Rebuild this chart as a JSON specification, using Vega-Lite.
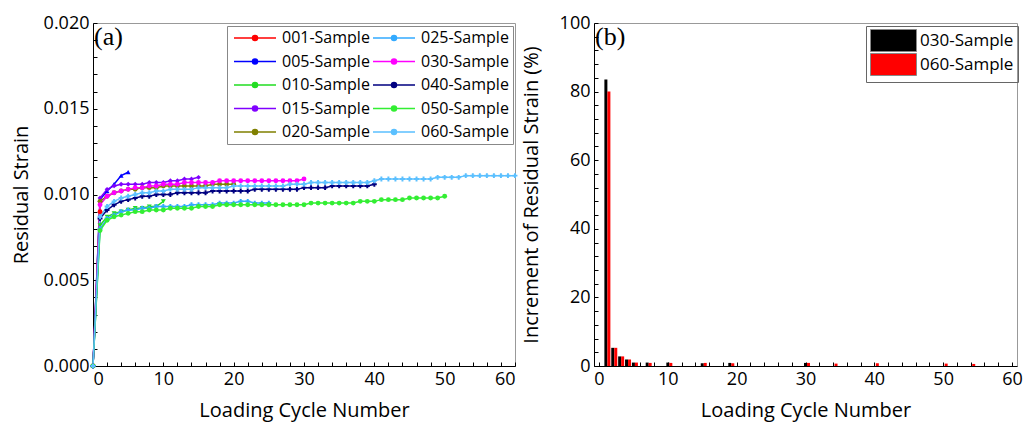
{
  "$schema": "https://vega.github.io/schema/vega-lite/v6.json",
  "background": "white",
  "padding": {"left": 10, "top": 13, "right": 5, "bottom": 5},
  "config": {
    "font": "Open Sans",
    "view": {"stroke": "#999", "strokeWidth": 1},
    "axis": {
      "labelFont": "Open Sans", "labelFontSize": 18, "labelColor": "#000",
      "titleFont": "Open Sans", "titleFontSize": 20, "titleFontWeight": "normal", "titleColor": "#000",
      "domainColor": "#000", "tickColor": "#000", "grid": false, "tickSize": -4, "labelPadding": 8
    },
    "legend": {"labelFont": "Open Sans", "labelColor": "#000"}
  },
  "datasets": {
    "strain": [
      {"sample": "001-Sample", "cycle": 0, "strain": 0}, {"sample": "001-Sample", "cycle": 1, "strain": 0.0090},
      {"sample": "005-Sample", "cycle": 0, "strain": 0}, {"sample": "005-Sample", "cycle": 1, "strain": 0.0097}, {"sample": "005-Sample", "cycle": 2, "strain": 0.0102}, {"sample": "005-Sample", "cycle": 3, "strain": 0.0106}, {"sample": "005-Sample", "cycle": 4, "strain": 0.0111}, {"sample": "005-Sample", "cycle": 5, "strain": 0.0113},
      {"sample": "010-Sample", "cycle": 0, "strain": 0}, {"sample": "010-Sample", "cycle": 1, "strain": 0.0082}, {"sample": "010-Sample", "cycle": 2, "strain": 0.0087}, {"sample": "010-Sample", "cycle": 3, "strain": 0.0089}, {"sample": "010-Sample", "cycle": 4, "strain": 0.0090}, {"sample": "010-Sample", "cycle": 5, "strain": 0.0091}, {"sample": "010-Sample", "cycle": 6, "strain": 0.0092}, {"sample": "010-Sample", "cycle": 7, "strain": 0.0092}, {"sample": "010-Sample", "cycle": 8, "strain": 0.0093}, {"sample": "010-Sample", "cycle": 9, "strain": 0.0093}, {"sample": "010-Sample", "cycle": 10, "strain": 0.0096},
      {"sample": "015-Sample", "cycle": 0, "strain": 0}, {"sample": "015-Sample", "cycle": 1, "strain": 0.0098}, {"sample": "015-Sample", "cycle": 2, "strain": 0.0103}, {"sample": "015-Sample", "cycle": 3, "strain": 0.0105}, {"sample": "015-Sample", "cycle": 4, "strain": 0.0106}, {"sample": "015-Sample", "cycle": 5, "strain": 0.0106}, {"sample": "015-Sample", "cycle": 6, "strain": 0.0106}, {"sample": "015-Sample", "cycle": 7, "strain": 0.0106}, {"sample": "015-Sample", "cycle": 8, "strain": 0.0107}, {"sample": "015-Sample", "cycle": 9, "strain": 0.0107}, {"sample": "015-Sample", "cycle": 10, "strain": 0.0107}, {"sample": "015-Sample", "cycle": 11, "strain": 0.0108}, {"sample": "015-Sample", "cycle": 12, "strain": 0.0108}, {"sample": "015-Sample", "cycle": 13, "strain": 0.0109}, {"sample": "015-Sample", "cycle": 14, "strain": 0.0109}, {"sample": "015-Sample", "cycle": 15, "strain": 0.0110},
      {"sample": "020-Sample", "cycle": 0, "strain": 0}, {"sample": "020-Sample", "cycle": 1, "strain": 0.0096}, {"sample": "020-Sample", "cycle": 2, "strain": 0.0099}, {"sample": "020-Sample", "cycle": 3, "strain": 0.0101}, {"sample": "020-Sample", "cycle": 4, "strain": 0.0102}, {"sample": "020-Sample", "cycle": 5, "strain": 0.0103}, {"sample": "020-Sample", "cycle": 6, "strain": 0.0103}, {"sample": "020-Sample", "cycle": 7, "strain": 0.0104}, {"sample": "020-Sample", "cycle": 8, "strain": 0.0104}, {"sample": "020-Sample", "cycle": 9, "strain": 0.0104}, {"sample": "020-Sample", "cycle": 10, "strain": 0.0105}, {"sample": "020-Sample", "cycle": 11, "strain": 0.0105}, {"sample": "020-Sample", "cycle": 12, "strain": 0.0105}, {"sample": "020-Sample", "cycle": 13, "strain": 0.0105}, {"sample": "020-Sample", "cycle": 14, "strain": 0.0105}, {"sample": "020-Sample", "cycle": 15, "strain": 0.0105}, {"sample": "020-Sample", "cycle": 16, "strain": 0.0105}, {"sample": "020-Sample", "cycle": 17, "strain": 0.0106}, {"sample": "020-Sample", "cycle": 18, "strain": 0.0106}, {"sample": "020-Sample", "cycle": 19, "strain": 0.0106}, {"sample": "020-Sample", "cycle": 20, "strain": 0.0106},
      {"sample": "025-Sample", "cycle": 0, "strain": 0}, {"sample": "025-Sample", "cycle": 1, "strain": 0.0080}, {"sample": "025-Sample", "cycle": 2, "strain": 0.0086}, {"sample": "025-Sample", "cycle": 3, "strain": 0.0088}, {"sample": "025-Sample", "cycle": 4, "strain": 0.0090}, {"sample": "025-Sample", "cycle": 5, "strain": 0.0091}, {"sample": "025-Sample", "cycle": 6, "strain": 0.0091}, {"sample": "025-Sample", "cycle": 7, "strain": 0.0092}, {"sample": "025-Sample", "cycle": 8, "strain": 0.0092}, {"sample": "025-Sample", "cycle": 9, "strain": 0.0093}, {"sample": "025-Sample", "cycle": 10, "strain": 0.0093}, {"sample": "025-Sample", "cycle": 11, "strain": 0.0093}, {"sample": "025-Sample", "cycle": 12, "strain": 0.0093}, {"sample": "025-Sample", "cycle": 13, "strain": 0.0093}, {"sample": "025-Sample", "cycle": 14, "strain": 0.0094}, {"sample": "025-Sample", "cycle": 15, "strain": 0.0094}, {"sample": "025-Sample", "cycle": 16, "strain": 0.0094}, {"sample": "025-Sample", "cycle": 17, "strain": 0.0094}, {"sample": "025-Sample", "cycle": 18, "strain": 0.0095}, {"sample": "025-Sample", "cycle": 19, "strain": 0.0095}, {"sample": "025-Sample", "cycle": 20, "strain": 0.0095}, {"sample": "025-Sample", "cycle": 21, "strain": 0.0096}, {"sample": "025-Sample", "cycle": 22, "strain": 0.0096}, {"sample": "025-Sample", "cycle": 23, "strain": 0.0095}, {"sample": "025-Sample", "cycle": 24, "strain": 0.0095}, {"sample": "025-Sample", "cycle": 25, "strain": 0.0095},
      {"sample": "030-Sample", "cycle": 0, "strain": 0}, {"sample": "030-Sample", "cycle": 1, "strain": 0.0094}, {"sample": "030-Sample", "cycle": 2, "strain": 0.0099}, {"sample": "030-Sample", "cycle": 3, "strain": 0.0101}, {"sample": "030-Sample", "cycle": 4, "strain": 0.0102}, {"sample": "030-Sample", "cycle": 5, "strain": 0.0103}, {"sample": "030-Sample", "cycle": 6, "strain": 0.0104}, {"sample": "030-Sample", "cycle": 7, "strain": 0.0104}, {"sample": "030-Sample", "cycle": 8, "strain": 0.0105}, {"sample": "030-Sample", "cycle": 9, "strain": 0.0105}, {"sample": "030-Sample", "cycle": 10, "strain": 0.0106}, {"sample": "030-Sample", "cycle": 11, "strain": 0.0106}, {"sample": "030-Sample", "cycle": 12, "strain": 0.0106}, {"sample": "030-Sample", "cycle": 13, "strain": 0.0107}, {"sample": "030-Sample", "cycle": 14, "strain": 0.0107}, {"sample": "030-Sample", "cycle": 15, "strain": 0.0107}, {"sample": "030-Sample", "cycle": 16, "strain": 0.0107}, {"sample": "030-Sample", "cycle": 17, "strain": 0.0107}, {"sample": "030-Sample", "cycle": 18, "strain": 0.0108}, {"sample": "030-Sample", "cycle": 19, "strain": 0.0108}, {"sample": "030-Sample", "cycle": 20, "strain": 0.0108}, {"sample": "030-Sample", "cycle": 21, "strain": 0.0108}, {"sample": "030-Sample", "cycle": 22, "strain": 0.0108}, {"sample": "030-Sample", "cycle": 23, "strain": 0.0108}, {"sample": "030-Sample", "cycle": 24, "strain": 0.0108}, {"sample": "030-Sample", "cycle": 25, "strain": 0.0108}, {"sample": "030-Sample", "cycle": 26, "strain": 0.0108}, {"sample": "030-Sample", "cycle": 27, "strain": 0.0108}, {"sample": "030-Sample", "cycle": 28, "strain": 0.0108}, {"sample": "030-Sample", "cycle": 29, "strain": 0.0108}, {"sample": "030-Sample", "cycle": 30, "strain": 0.0109},
      {"sample": "040-Sample", "cycle": 0, "strain": 0}, {"sample": "040-Sample", "cycle": 1, "strain": 0.0086}, {"sample": "040-Sample", "cycle": 2, "strain": 0.0091}, {"sample": "040-Sample", "cycle": 3, "strain": 0.0094}, {"sample": "040-Sample", "cycle": 4, "strain": 0.0096}, {"sample": "040-Sample", "cycle": 5, "strain": 0.0097}, {"sample": "040-Sample", "cycle": 6, "strain": 0.0098}, {"sample": "040-Sample", "cycle": 7, "strain": 0.0099}, {"sample": "040-Sample", "cycle": 8, "strain": 0.0099}, {"sample": "040-Sample", "cycle": 9, "strain": 0.0100}, {"sample": "040-Sample", "cycle": 10, "strain": 0.0100}, {"sample": "040-Sample", "cycle": 11, "strain": 0.0100}, {"sample": "040-Sample", "cycle": 12, "strain": 0.0101}, {"sample": "040-Sample", "cycle": 13, "strain": 0.0101}, {"sample": "040-Sample", "cycle": 14, "strain": 0.0101}, {"sample": "040-Sample", "cycle": 15, "strain": 0.0101}, {"sample": "040-Sample", "cycle": 16, "strain": 0.0101}, {"sample": "040-Sample", "cycle": 17, "strain": 0.0102}, {"sample": "040-Sample", "cycle": 18, "strain": 0.0102}, {"sample": "040-Sample", "cycle": 19, "strain": 0.0102}, {"sample": "040-Sample", "cycle": 20, "strain": 0.0102}, {"sample": "040-Sample", "cycle": 21, "strain": 0.0102}, {"sample": "040-Sample", "cycle": 22, "strain": 0.0102}, {"sample": "040-Sample", "cycle": 23, "strain": 0.0103}, {"sample": "040-Sample", "cycle": 24, "strain": 0.0103}, {"sample": "040-Sample", "cycle": 25, "strain": 0.0103}, {"sample": "040-Sample", "cycle": 26, "strain": 0.0103}, {"sample": "040-Sample", "cycle": 27, "strain": 0.0103}, {"sample": "040-Sample", "cycle": 28, "strain": 0.0103}, {"sample": "040-Sample", "cycle": 29, "strain": 0.0103}, {"sample": "040-Sample", "cycle": 30, "strain": 0.0104}, {"sample": "040-Sample", "cycle": 31, "strain": 0.0104}, {"sample": "040-Sample", "cycle": 32, "strain": 0.0104}, {"sample": "040-Sample", "cycle": 33, "strain": 0.0104}, {"sample": "040-Sample", "cycle": 34, "strain": 0.0105}, {"sample": "040-Sample", "cycle": 35, "strain": 0.0105}, {"sample": "040-Sample", "cycle": 36, "strain": 0.0105}, {"sample": "040-Sample", "cycle": 37, "strain": 0.0105}, {"sample": "040-Sample", "cycle": 38, "strain": 0.0105}, {"sample": "040-Sample", "cycle": 39, "strain": 0.0105}, {"sample": "040-Sample", "cycle": 40, "strain": 0.0106},
      {"sample": "050-Sample", "cycle": 0, "strain": 0}, {"sample": "050-Sample", "cycle": 1, "strain": 0.0079}, {"sample": "050-Sample", "cycle": 2, "strain": 0.0085}, {"sample": "050-Sample", "cycle": 3, "strain": 0.0087}, {"sample": "050-Sample", "cycle": 4, "strain": 0.0088}, {"sample": "050-Sample", "cycle": 5, "strain": 0.0089}, {"sample": "050-Sample", "cycle": 6, "strain": 0.0090}, {"sample": "050-Sample", "cycle": 7, "strain": 0.0090}, {"sample": "050-Sample", "cycle": 8, "strain": 0.0091}, {"sample": "050-Sample", "cycle": 9, "strain": 0.0091}, {"sample": "050-Sample", "cycle": 10, "strain": 0.0091}, {"sample": "050-Sample", "cycle": 11, "strain": 0.0092}, {"sample": "050-Sample", "cycle": 12, "strain": 0.0092}, {"sample": "050-Sample", "cycle": 13, "strain": 0.0092}, {"sample": "050-Sample", "cycle": 14, "strain": 0.0092}, {"sample": "050-Sample", "cycle": 15, "strain": 0.0093}, {"sample": "050-Sample", "cycle": 16, "strain": 0.0093}, {"sample": "050-Sample", "cycle": 17, "strain": 0.0093}, {"sample": "050-Sample", "cycle": 18, "strain": 0.0094}, {"sample": "050-Sample", "cycle": 19, "strain": 0.0094}, {"sample": "050-Sample", "cycle": 20, "strain": 0.0094}, {"sample": "050-Sample", "cycle": 21, "strain": 0.0094}, {"sample": "050-Sample", "cycle": 22, "strain": 0.0094}, {"sample": "050-Sample", "cycle": 23, "strain": 0.0094}, {"sample": "050-Sample", "cycle": 24, "strain": 0.0094}, {"sample": "050-Sample", "cycle": 25, "strain": 0.0094}, {"sample": "050-Sample", "cycle": 26, "strain": 0.0094}, {"sample": "050-Sample", "cycle": 27, "strain": 0.0094}, {"sample": "050-Sample", "cycle": 28, "strain": 0.0094}, {"sample": "050-Sample", "cycle": 29, "strain": 0.0094}, {"sample": "050-Sample", "cycle": 30, "strain": 0.0094}, {"sample": "050-Sample", "cycle": 31, "strain": 0.0095}, {"sample": "050-Sample", "cycle": 32, "strain": 0.0095}, {"sample": "050-Sample", "cycle": 33, "strain": 0.0095}, {"sample": "050-Sample", "cycle": 34, "strain": 0.0095}, {"sample": "050-Sample", "cycle": 35, "strain": 0.0095}, {"sample": "050-Sample", "cycle": 36, "strain": 0.0095}, {"sample": "050-Sample", "cycle": 37, "strain": 0.0095}, {"sample": "050-Sample", "cycle": 38, "strain": 0.0096}, {"sample": "050-Sample", "cycle": 39, "strain": 0.0096}, {"sample": "050-Sample", "cycle": 40, "strain": 0.0096}, {"sample": "050-Sample", "cycle": 41, "strain": 0.0097}, {"sample": "050-Sample", "cycle": 42, "strain": 0.0097}, {"sample": "050-Sample", "cycle": 43, "strain": 0.0097}, {"sample": "050-Sample", "cycle": 44, "strain": 0.0097}, {"sample": "050-Sample", "cycle": 45, "strain": 0.0098}, {"sample": "050-Sample", "cycle": 46, "strain": 0.0098}, {"sample": "050-Sample", "cycle": 47, "strain": 0.0098}, {"sample": "050-Sample", "cycle": 48, "strain": 0.0098}, {"sample": "050-Sample", "cycle": 49, "strain": 0.0098}, {"sample": "050-Sample", "cycle": 50, "strain": 0.0099},
      {"sample": "060-Sample", "cycle": 0, "strain": 0}, {"sample": "060-Sample", "cycle": 1, "strain": 0.0087}, {"sample": "060-Sample", "cycle": 2, "strain": 0.0093}, {"sample": "060-Sample", "cycle": 3, "strain": 0.0096}, {"sample": "060-Sample", "cycle": 4, "strain": 0.0098}, {"sample": "060-Sample", "cycle": 5, "strain": 0.0099}, {"sample": "060-Sample", "cycle": 6, "strain": 0.0100}, {"sample": "060-Sample", "cycle": 7, "strain": 0.0101}, {"sample": "060-Sample", "cycle": 8, "strain": 0.0101}, {"sample": "060-Sample", "cycle": 9, "strain": 0.0102}, {"sample": "060-Sample", "cycle": 10, "strain": 0.0102}, {"sample": "060-Sample", "cycle": 11, "strain": 0.0103}, {"sample": "060-Sample", "cycle": 12, "strain": 0.0103}, {"sample": "060-Sample", "cycle": 13, "strain": 0.0103}, {"sample": "060-Sample", "cycle": 14, "strain": 0.0103}, {"sample": "060-Sample", "cycle": 15, "strain": 0.0104}, {"sample": "060-Sample", "cycle": 16, "strain": 0.0104}, {"sample": "060-Sample", "cycle": 17, "strain": 0.0104}, {"sample": "060-Sample", "cycle": 18, "strain": 0.0104}, {"sample": "060-Sample", "cycle": 19, "strain": 0.0104}, {"sample": "060-Sample", "cycle": 20, "strain": 0.0105}, {"sample": "060-Sample", "cycle": 21, "strain": 0.0105}, {"sample": "060-Sample", "cycle": 22, "strain": 0.0105}, {"sample": "060-Sample", "cycle": 23, "strain": 0.0105}, {"sample": "060-Sample", "cycle": 24, "strain": 0.0105}, {"sample": "060-Sample", "cycle": 25, "strain": 0.0105}, {"sample": "060-Sample", "cycle": 26, "strain": 0.0105}, {"sample": "060-Sample", "cycle": 27, "strain": 0.0105}, {"sample": "060-Sample", "cycle": 28, "strain": 0.0106}, {"sample": "060-Sample", "cycle": 29, "strain": 0.0106}, {"sample": "060-Sample", "cycle": 30, "strain": 0.0106}, {"sample": "060-Sample", "cycle": 31, "strain": 0.0107}, {"sample": "060-Sample", "cycle": 32, "strain": 0.0107}, {"sample": "060-Sample", "cycle": 33, "strain": 0.0107}, {"sample": "060-Sample", "cycle": 34, "strain": 0.0107}, {"sample": "060-Sample", "cycle": 35, "strain": 0.0107}, {"sample": "060-Sample", "cycle": 36, "strain": 0.0107}, {"sample": "060-Sample", "cycle": 37, "strain": 0.0107}, {"sample": "060-Sample", "cycle": 38, "strain": 0.0107}, {"sample": "060-Sample", "cycle": 39, "strain": 0.0107}, {"sample": "060-Sample", "cycle": 40, "strain": 0.0108}, {"sample": "060-Sample", "cycle": 41, "strain": 0.0109}, {"sample": "060-Sample", "cycle": 42, "strain": 0.0109}, {"sample": "060-Sample", "cycle": 43, "strain": 0.0109}, {"sample": "060-Sample", "cycle": 44, "strain": 0.0109}, {"sample": "060-Sample", "cycle": 45, "strain": 0.0109}, {"sample": "060-Sample", "cycle": 46, "strain": 0.0109}, {"sample": "060-Sample", "cycle": 47, "strain": 0.0109}, {"sample": "060-Sample", "cycle": 48, "strain": 0.0109}, {"sample": "060-Sample", "cycle": 49, "strain": 0.0110}, {"sample": "060-Sample", "cycle": 50, "strain": 0.0110}, {"sample": "060-Sample", "cycle": 51, "strain": 0.0110}, {"sample": "060-Sample", "cycle": 52, "strain": 0.0110}, {"sample": "060-Sample", "cycle": 53, "strain": 0.0111}, {"sample": "060-Sample", "cycle": 54, "strain": 0.0111}, {"sample": "060-Sample", "cycle": 55, "strain": 0.0111}, {"sample": "060-Sample", "cycle": 56, "strain": 0.0111}, {"sample": "060-Sample", "cycle": 57, "strain": 0.0111}, {"sample": "060-Sample", "cycle": 58, "strain": 0.0111}, {"sample": "060-Sample", "cycle": 59, "strain": 0.0111}, {"sample": "060-Sample", "cycle": 60, "strain": 0.0111}
    ],
    "increment": [
      {"sample": "030-Sample", "cycle": 1, "inc": 83.5}, {"sample": "030-Sample", "cycle": 2, "inc": 5.3}, {"sample": "030-Sample", "cycle": 3, "inc": 2.8}, {"sample": "030-Sample", "cycle": 4, "inc": 1.9}, {"sample": "030-Sample", "cycle": 5, "inc": 1.0}, {"sample": "030-Sample", "cycle": 7, "inc": 1.0}, {"sample": "030-Sample", "cycle": 10, "inc": 1.0}, {"sample": "030-Sample", "cycle": 15, "inc": 0.8}, {"sample": "030-Sample", "cycle": 19, "inc": 0.9}, {"sample": "030-Sample", "cycle": 30, "inc": 0.9},
      {"sample": "060-Sample", "cycle": 1, "inc": 80.0}, {"sample": "060-Sample", "cycle": 2, "inc": 5.3}, {"sample": "060-Sample", "cycle": 3, "inc": 2.8}, {"sample": "060-Sample", "cycle": 4, "inc": 1.9}, {"sample": "060-Sample", "cycle": 5, "inc": 1.0}, {"sample": "060-Sample", "cycle": 7, "inc": 0.9}, {"sample": "060-Sample", "cycle": 10, "inc": 0.9}, {"sample": "060-Sample", "cycle": 15, "inc": 0.9}, {"sample": "060-Sample", "cycle": 19, "inc": 0.8}, {"sample": "060-Sample", "cycle": 30, "inc": 0.9}, {"sample": "060-Sample", "cycle": 34, "inc": 0.7}, {"sample": "060-Sample", "cycle": 40, "inc": 0.8}, {"sample": "060-Sample", "cycle": 50, "inc": 0.7}, {"sample": "060-Sample", "cycle": 54, "inc": 0.6}
    ]
  },
  "resolve": {"scale": {"x": "independent", "y": "independent", "color": "independent"}},
  "spacing": 1,
  "hconcat": [
    {
      "width": 422, "height": 343,
      "title": {"text": "(a)", "anchor": "start", "frame": "group", "font": "Liberation Serif", "fontSize": 26, "fontWeight": "normal", "color": "#000", "dx": 1, "dy": 36, "offset": 0},
      "data": {"name": "strain"},
      "encoding": {
        "x": {"field": "cycle", "type": "quantitative", "scale": {"domain": [0, 60], "nice": false},
          "axis": {"title": "Loading Cycle Number", "values": [0,2,4,6,8,10,12,14,16,18,20,22,24,26,28,30,32,34,36,38,40,42,44,46,48,50,52,54,56,58,60], "labelExpr": "datum.value % 10 === 0 ? datum.label : ''", "titlePadding": 12}},
        "y": {"field": "strain", "type": "quantitative", "scale": {"domain": [0, 0.02], "nice": false},
          "axis": {"title": "Residual Strain", "values": [0,0.001,0.002,0.003,0.004,0.005,0.006,0.007,0.008,0.009,0.010,0.011,0.012,0.013,0.014,0.015,0.016,0.017,0.018,0.019,0.020], "labelExpr": "round(datum.value*1000) % 5 === 0 ? format(datum.value, '.3f') : ''", "titlePadding": 12}},
        "color": {"field": "sample", "type": "nominal",
          "scale": {"domain": ["001-Sample","005-Sample","010-Sample","015-Sample","020-Sample","025-Sample","030-Sample","040-Sample","050-Sample","060-Sample"],
                    "range": ["#FF0000","#0000FF","#22DD22","#8000FF","#808000","#33AAFF","#FF00FF","#000080","#33EE33","#5BC0FF"]},
          "legend": {"title": null, "orient": "none", "legendX": 134, "legendY": 3, "columns": 2, "labelFontSize": 16,
            "symbolType": "M-4.2,0H4.2M-0.5,0A0.5,0.5,0,1,1,0.5,0A0.5,0.5,0,1,1,-0.5,0Z", "symbolSize": 100, "symbolStrokeWidth": 1.5, "symbolOffset": 16, "labelOffset": 19,
            "strokeColor": "#888", "padding": 4, "rowPadding": 7.5, "columnPadding": 0,
            "encode": {"symbols": {"update": {"fill": {"scale": "color", "field": "value"}, "stroke": {"scale": "color", "field": "value"}}}}}},
        "order": {"field": "cycle", "type": "quantitative"}
      },
      "layer": [
        {"mark": {"type": "line", "strokeWidth": 1.5}},
        {"mark": {"type": "point", "filled": true, "size": 24, "opacity": 1},
         "encoding": {"shape": {"field": "sample", "type": "nominal", "legend": null,
           "scale": {"domain": ["001-Sample","005-Sample","010-Sample","015-Sample","020-Sample","025-Sample","030-Sample","040-Sample","050-Sample","060-Sample"],
                     "range": ["circle","triangle-up","triangle-down","diamond","circle","cross","circle","cross","circle","cross"]}}}}
      ]
    },
    {
      "width": 423, "height": 343,
      "title": {"text": "(b)", "anchor": "start", "frame": "group", "font": "Liberation Serif", "fontSize": 26, "fontWeight": "normal", "color": "#000", "dx": 1, "dy": 36, "offset": 0},
      "data": {"name": "increment"},
      "encoding": {
        "x": {"field": "cycle", "type": "quantitative", "scale": {"domain": [0, 60], "nice": false},
          "axis": {"title": "Loading Cycle Number", "values": [0,2,4,6,8,10,12,14,16,18,20,22,24,26,28,30,32,34,36,38,40,42,44,46,48,50,52,54,56,58,60], "labelExpr": "datum.value % 10 === 0 ? datum.label : ''", "titlePadding": 12}},
        "y": {"field": "inc", "type": "quantitative", "scale": {"domain": [0, 100], "nice": false},
          "axis": {"title": "Increment of Residual Strain (%)", "values": [0,4,8,12,16,20,24,28,32,36,40,44,48,52,56,60,64,68,72,76,80,84,88,92,96,100], "labelExpr": "datum.value % 20 === 0 ? datum.label : ''", "titlePadding": 18}},
        "color": {"field": "sample", "type": "nominal",
          "scale": {"domain": ["030-Sample","060-Sample"], "range": ["#000000","#FF0000"]},
          "legend": {"title": null, "orient": "none", "legendX": 272, "legendY": 3, "labelFontSize": 17,
            "symbolType": "M-2.3,-1.1H2.3V1.1H-2.3Z", "symbolSize": 400, "symbolStrokeColor": "#888", "symbolStrokeWidth": 1, "symbolOffset": 13, "labelOffset": 16,
            "strokeColor": "#666", "padding": 4, "rowPadding": -4}}
      },
      "layer": [
        {"transform": [{"filter": "datum.sample === '030-Sample'"}], "mark": {"type": "bar", "width": 3, "xOffset": 0}},
        {"transform": [{"filter": "datum.sample === '060-Sample'"}], "mark": {"type": "bar", "width": 3, "xOffset": 3}}
      ]
    }
  ]
}
